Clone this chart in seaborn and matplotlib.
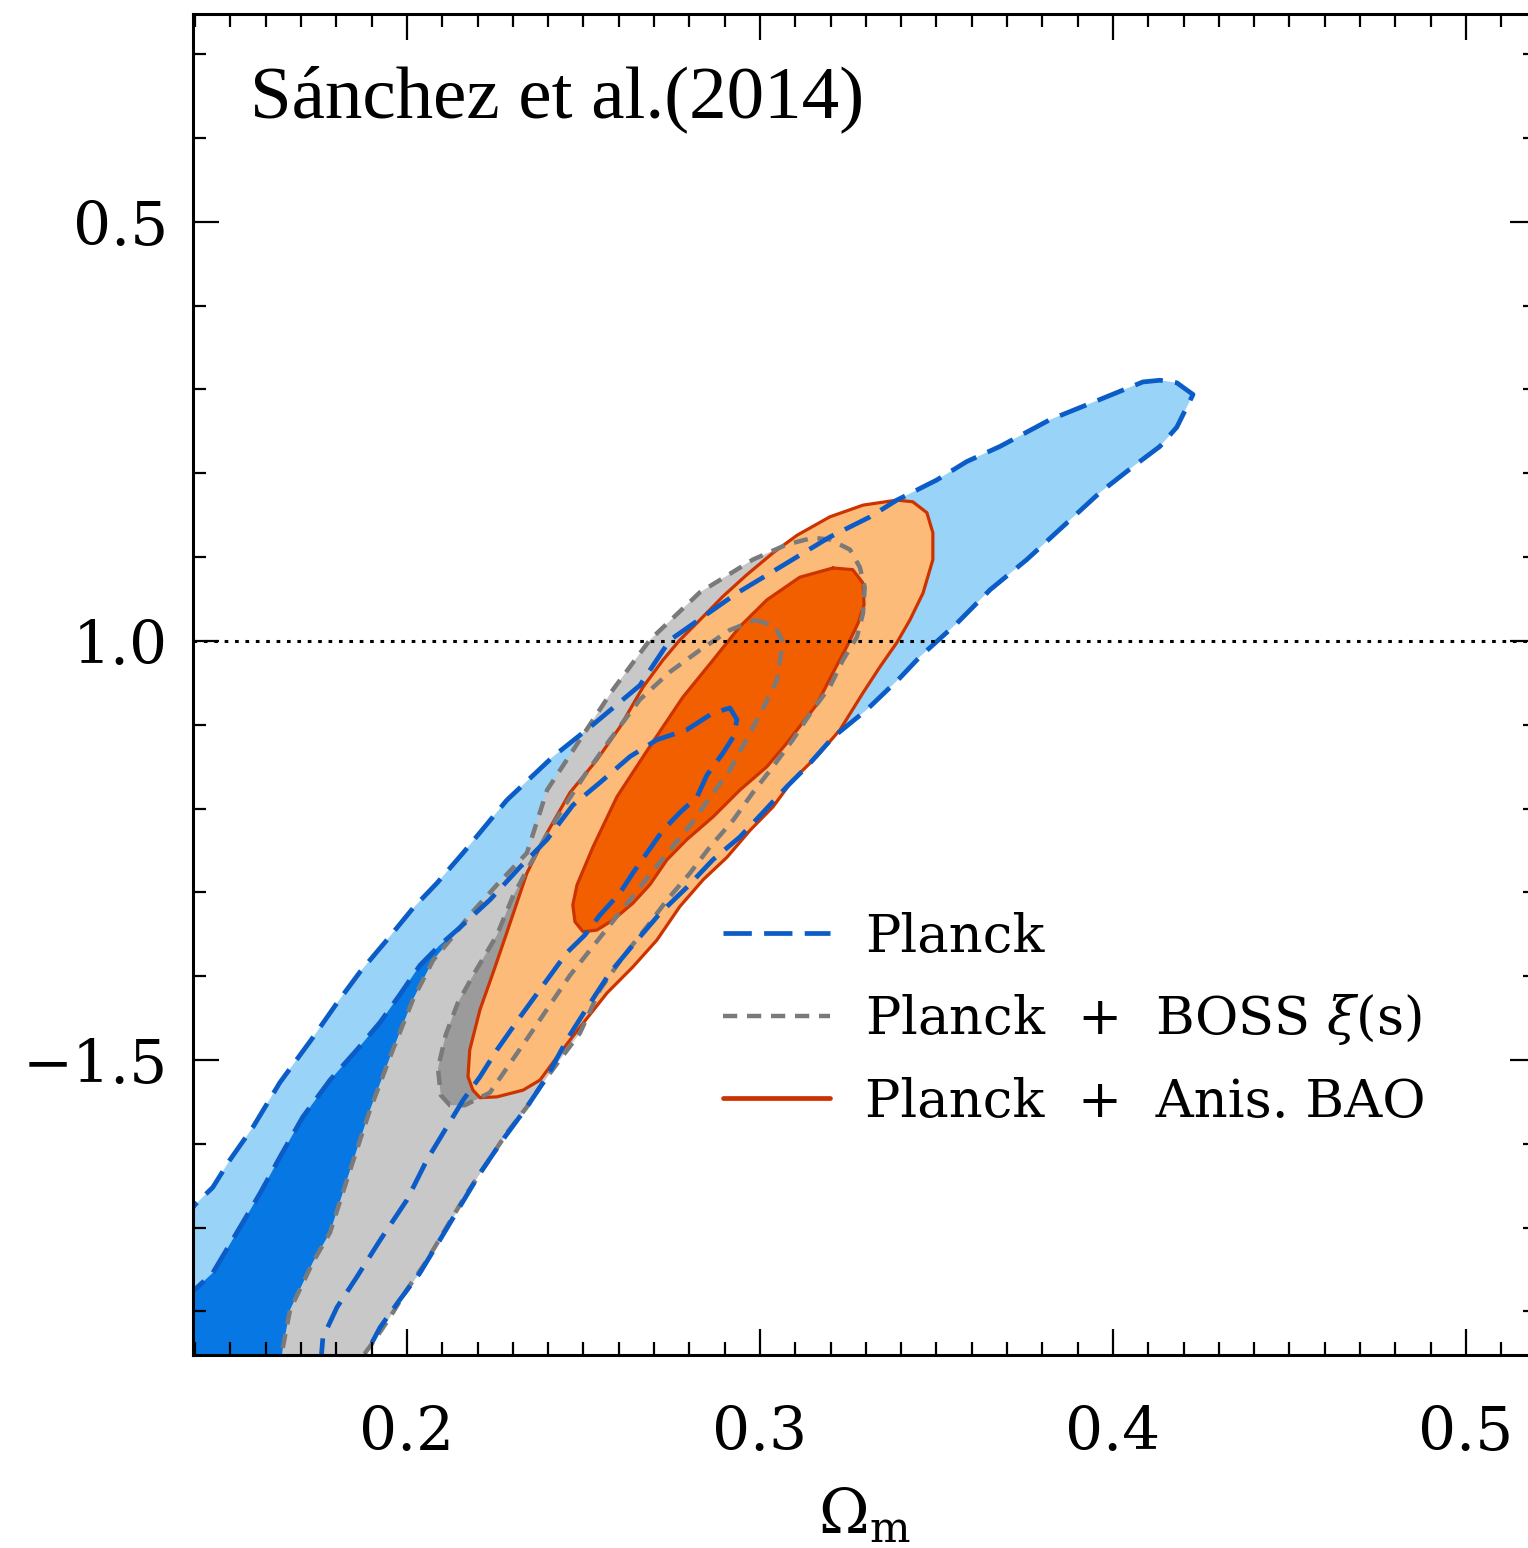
import matplotlib
matplotlib.use("Agg")
import matplotlib.pyplot as plt
from matplotlib.lines import Line2D
from matplotlib.ticker import MultipleLocator, FormatStrFormatter
import numpy as np
import pandas as pd
import seaborn as sns

# ---------------- data (Omega_m , w) ----------------
planck_2sig_x = [0.1357, 0.1399, 0.1450, 0.1499, 0.1564, 0.1640, 0.1734, 0.1802, 0.1867, 0.1943,
                 0.2017, 0.2085, 0.2159, 0.2283, 0.2414, 0.2527, 0.2660, 0.2745, 0.2935, 0.3057,
                 0.3198, 0.3312, 0.3388, 0.3501, 0.3586, 0.3680, 0.3822, 0.3963, 0.4085, 0.4133,
                 0.4181, 0.4227, 0.4181, 0.4133, 0.4057, 0.3963, 0.3870, 0.3756, 0.3652, 0.3558,
                 0.3453, 0.3397, 0.3303, 0.3207, 0.3133, 0.3076, 0.3008, 0.2943, 0.2867, 0.2793,
                 0.2717, 0.2640, 0.2575, 0.2510, 0.2453, 0.2397, 0.2340, 0.2272, 0.2207, 0.2150,
                 0.2093, 0.2037, 0.1980, 0.1924, 0.1890, 0.1867, 0.1357]
planck_2sig_y = [-1.697, -1.673, -1.652, -1.619, -1.580, -1.527, -1.473, -1.432, -1.395, -1.357,
                 -1.319, -1.289, -1.253, -1.190, -1.138, -1.100, -1.053, -0.999, -0.943, -0.912,
                 -0.876, -0.852, -0.832, -0.808, -0.786, -0.768, -0.736, -0.712, -0.691, -0.689,
                 -0.692, -0.706, -0.745, -0.768, -0.792, -0.823, -0.859, -0.903, -0.939, -0.979,
                 -1.019, -1.044, -1.082, -1.115, -1.150, -1.174, -1.205, -1.234, -1.261, -1.294,
                 -1.325, -1.363, -1.396, -1.438, -1.476, -1.520, -1.556, -1.595, -1.635, -1.675,
                 -1.715, -1.754, -1.786, -1.819, -1.846, -1.872, -1.872]

planck_1sig_x = [0.1357, 0.1399, 0.1450, 0.1518, 0.1584, 0.1640, 0.1705, 0.1782, 0.1858, 0.1924,
                 0.1980, 0.2037, 0.2093, 0.2150, 0.2235, 0.2320, 0.2397, 0.2470, 0.2547, 0.2632,
                 0.2708, 0.2793, 0.2867, 0.2915, 0.2935, 0.2924, 0.2895, 0.2850, 0.2822, 0.2773,
                 0.2725, 0.2680, 0.2640, 0.2603, 0.2547, 0.2504, 0.2453, 0.2377, 0.2320, 0.2255,
                 0.2207, 0.2159, 0.2113, 0.2057, 0.2000, 0.1924, 0.1858, 0.1802, 0.1762, 0.1754,
                 0.1357]
planck_1sig_y = [-1.780, -1.774, -1.754, -1.706, -1.659, -1.616, -1.568, -1.524, -1.488, -1.455,
                 -1.422, -1.387, -1.363, -1.342, -1.309, -1.270, -1.237, -1.196, -1.169, -1.138,
                 -1.118, -1.106, -1.086, -1.080, -1.094, -1.115, -1.134, -1.160, -1.186, -1.205,
                 -1.226, -1.253, -1.277, -1.301, -1.327, -1.351, -1.372, -1.416, -1.449, -1.488,
                 -1.520, -1.548, -1.580, -1.619, -1.667, -1.715, -1.759, -1.795, -1.831, -1.872,
                 -1.872]

boss_2sig_x = [0.1640, 0.1649, 0.1669, 0.1734, 0.1782, 0.1830, 0.1895, 0.1960, 0.2017, 0.2074,
               0.2130, 0.2178, 0.2255, 0.2340, 0.2397, 0.2490, 0.2584, 0.2688, 0.2830, 0.2915,
               0.2980, 0.3076, 0.3150, 0.3198, 0.3255, 0.3283, 0.3297, 0.3292, 0.3275, 0.3235,
               0.3198, 0.3150, 0.3093, 0.3037, 0.2980, 0.2924, 0.2858, 0.2802, 0.2737, 0.2680,
               0.2612, 0.2547, 0.2490, 0.2433, 0.2377, 0.2340, 0.2283, 0.2227, 0.2170, 0.2113,
               0.2057, 0.2000, 0.1952, 0.1909, 0.1867, 0.1839]
boss_2sig_y = [-1.872, -1.842, -1.798, -1.741, -1.706, -1.643, -1.560, -1.488, -1.428, -1.381,
               -1.353, -1.327, -1.291, -1.253, -1.178, -1.118, -1.058, -0.999, -0.942, -0.920,
               -0.903, -0.885, -0.877, -0.879, -0.891, -0.912, -0.936, -0.967, -0.995, -1.023,
               -1.055, -1.082, -1.118, -1.150, -1.181, -1.214, -1.246, -1.277, -1.309, -1.341,
               -1.377, -1.416, -1.468, -1.500, -1.532, -1.556, -1.587, -1.623, -1.659, -1.699,
               -1.739, -1.774, -1.807, -1.834, -1.858, -1.876]

boss_1sig_x = [0.2986, 0.3042, 0.3065, 0.3048, 0.3000, 0.2915, 0.2802, 0.2688, 0.2575, 0.2462,
               0.2348, 0.2235, 0.2164, 0.2122, 0.2096, 0.2088, 0.2110, 0.2144, 0.2193, 0.2255,
               0.2300, 0.2343, 0.2391, 0.2448, 0.2504, 0.2575, 0.2660, 0.2745, 0.2830, 0.2915]
boss_1sig_y = [-0.975, -0.982, -1.001, -1.047, -1.088, -1.154, -1.220, -1.279, -1.339, -1.399,
               -1.470, -1.539, -1.554, -1.554, -1.542, -1.510, -1.470, -1.432, -1.395, -1.351,
               -1.305, -1.271, -1.235, -1.196, -1.160, -1.118, -1.070, -1.037, -1.011, -0.987]

bao_2sig_x = [0.3388, 0.3433, 0.3473, 0.3490, 0.3490, 0.3462, 0.3425, 0.3388, 0.3340, 0.3292,
              0.3227, 0.3161, 0.3093, 0.3037, 0.2972, 0.2907, 0.2839, 0.2773, 0.2708, 0.2640,
              0.2567, 0.2490, 0.2433, 0.2377, 0.2329, 0.2255, 0.2207, 0.2187, 0.2173, 0.2178,
              0.2207, 0.2244, 0.2283, 0.2340, 0.2397, 0.2462, 0.2538, 0.2603, 0.2669, 0.2725,
              0.2773, 0.2830, 0.2895, 0.2963, 0.3037, 0.3105, 0.3198, 0.3292]
bao_2sig_y = [-0.832, -0.834, -0.847, -0.871, -0.903, -0.943, -0.975, -1.002, -1.031, -1.062,
              -1.106, -1.138, -1.166, -1.198, -1.226, -1.258, -1.285, -1.317, -1.357, -1.389,
              -1.420, -1.461, -1.492, -1.524, -1.536, -1.544, -1.545, -1.536, -1.520, -1.488,
              -1.440, -1.396, -1.348, -1.277, -1.229, -1.181, -1.142, -1.103, -1.055, -1.023,
              -0.999, -0.975, -0.947, -0.921, -0.895, -0.874, -0.852, -0.838]

bao_1sig_x = [0.3207, 0.3263, 0.3292, 0.3295, 0.3278, 0.3246, 0.3207, 0.3161, 0.3076, 0.3020,
              0.2943, 0.2867, 0.2793, 0.2737, 0.2688, 0.2640, 0.2584, 0.2538, 0.2499, 0.2476,
              0.2470, 0.2482, 0.2527, 0.2595, 0.2688, 0.2782, 0.2867, 0.2943, 0.3020, 0.3113]
bao_1sig_y = [-0.913, -0.915, -0.931, -0.957, -0.979, -1.007, -1.038, -1.076, -1.122, -1.150,
              -1.178, -1.210, -1.237, -1.261, -1.291, -1.313, -1.333, -1.345, -1.347, -1.335,
              -1.315, -1.291, -1.246, -1.186, -1.126, -1.067, -1.023, -0.983, -0.951, -0.924]

x_ticks = [0.2, 0.3, 0.4, 0.5]
y_ticks = [-0.5, -1.0, -1.5]
y_tick_labels = ["0.5", "1.0", "\u22121.5"]
legend_labels = ["Planck", "Planck  +  BOSS $\\xi$(s)", "Planck  +  Anis. BAO"]
title_text = "S\u00e1nchez et al.(2014)"
w_reference = -1.0

# ---------------- style ----------------
sns.set_theme(style="ticks")
plt.rcParams["font.family"] = ["DejaVu Serif"]
plt.rcParams["mathtext.fontset"] = "dejavuserif"
for key in ["text.color", "axes.labelcolor", "xtick.color", "ytick.color", "axes.edgecolor"]:
    plt.rcParams[key] = "black"

C_P2, C_P1 = "#99d3f7", "#0677e3"
C_B2, C_B1 = "#c8c8c8", "#9b9b9b"
C_A2, C_A1 = "#fdbb7a", "#f25f00"
C_BLUE, C_GRAY, C_ORANGE = "#0b5cc7", "#7a7a7a", "#cc3300"
DASH_BLUE = (0, (6.0, 2.6))
DASH_GRAY = (0, (3.2, 2.2))

fig = plt.figure(figsize=(15.28, 15.48), dpi=100)
ax = fig.add_axes([0.12631, 0.12468, 0.87925, 0.86628])

fills = [
    (planck_2sig_x, planck_2sig_y, C_P2),
    (planck_1sig_x, planck_1sig_y, C_P1),
    (boss_2sig_x, boss_2sig_y, C_B2),
    (boss_1sig_x, boss_1sig_y, C_B1),
    (bao_2sig_x, bao_2sig_y, C_A2),
    (bao_1sig_x, bao_1sig_y, C_A1),
]
for i, (xs, ys, col) in enumerate(fills):
    ax.fill(xs, ys, color=col, lw=0, zorder=1 + 0.1 * i)


def outline(xs, ys, z, **kw):
    df = pd.DataFrame({"om": list(xs) + [xs[0]], "w": list(ys) + [ys[0]]})
    sns.lineplot(data=df, x="om", y="w", sort=False, estimator=None, ax=ax,
                 legend=False, zorder=z, **kw)


outline(bao_2sig_x, bao_2sig_y, 3, color=C_ORANGE, lw=2.3)
outline(bao_1sig_x, bao_1sig_y, 3, color=C_ORANGE, lw=2.3)
outline(boss_2sig_x, boss_2sig_y, 4, color=C_GRAY, lw=3.2, linestyle=DASH_GRAY)
outline(boss_1sig_x, boss_1sig_y, 4, color=C_GRAY, lw=3.2, linestyle=DASH_GRAY)
outline(planck_2sig_x, planck_2sig_y, 5, color=C_BLUE, lw=3.4, linestyle=DASH_BLUE)
outline(planck_1sig_x, planck_1sig_y, 5, color=C_BLUE, lw=3.4, linestyle=DASH_BLUE)

ax.axhline(w_reference, color="black", lw=2.2, linestyle=(0, (1.2, 2.2)), zorder=6)

# ---------------- axes ----------------
ax.set_xlim(0.1394, 0.5200)
ax.set_ylim(-1.852, -0.252)
ax.set_xticks(x_ticks)
ax.xaxis.set_major_formatter(FormatStrFormatter("%.1f"))
ax.xaxis.set_minor_locator(MultipleLocator(0.01))
ax.set_yticks(y_ticks)
ax.set_yticklabels(y_tick_labels)
ax.yaxis.set_minor_locator(MultipleLocator(0.1))
ax.tick_params(which="both", direction="in", top=True, right=True, colors="black",
               width=1.6)
ax.tick_params(which="major", length=18.5)
ax.tick_params(which="minor", length=9.4)
ax.tick_params(axis="x", which="major", labelsize=43, pad=35)
ax.tick_params(axis="y", which="major", labelsize=43, pad=18)
for sp in ax.spines.values():
    sp.set_linewidth(2.2)
    sp.set_color("black")
    sp.set_zorder(20)
ax.xaxis.set_zorder(20)
ax.yaxis.set_zorder(20)
ax.set_facecolor("white")

ax.set_xlabel(r"$\Omega_{\rm m}$", fontsize=44, labelpad=18, color="black")
ax.set_ylabel("")

ax.text(0.0424, 0.923, title_text, transform=ax.transAxes, fontsize=54, color="black",
        family=["Liberation Serif", "DejaVu Serif"], va="baseline", ha="left", zorder=30)

handles = [
    Line2D([], [], color=C_BLUE, lw=3.4, linestyle=DASH_BLUE),
    Line2D([], [], color=C_GRAY, lw=3.2, linestyle=DASH_GRAY),
    Line2D([], [], color=C_ORANGE, lw=3.4),
]
leg = ax.legend(handles, legend_labels, loc="upper left", bbox_to_anchor=(0.3945, 0.3305),
                frameon=False, fontsize=38, handlelength=2.03, handletextpad=0.66,
                labelspacing=0.56, borderpad=0, borderaxespad=0)
for t in leg.get_texts():
    t.set_color("black")
leg.set_zorder(30)

fig.savefig("out.png", dpi=100)
